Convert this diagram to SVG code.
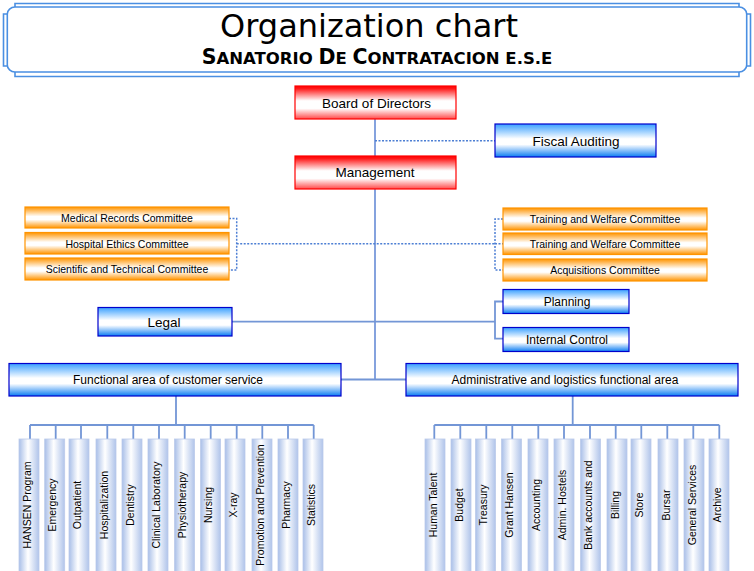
<svg xmlns="http://www.w3.org/2000/svg" width="754" height="571" viewBox="0 0 754 571">
<defs>
<linearGradient id="gRed" x1="0" y1="0" x2="0" y2="1">
<stop offset="0" stop-color="#ff0000"/><stop offset="0.08" stop-color="#ff1a1a"/><stop offset="0.45" stop-color="#ffffff"/><stop offset="0.68" stop-color="#ffffff"/><stop offset="1" stop-color="#ff4a4a"/>
</linearGradient>
<linearGradient id="gBlue" x1="0" y1="0" x2="0" y2="1">
<stop offset="0" stop-color="#3aa0ff"/><stop offset="0.45" stop-color="#ffffff"/><stop offset="0.62" stop-color="#ffffff"/><stop offset="1" stop-color="#0a7cf2"/>
</linearGradient>
<linearGradient id="gOrange" x1="0" y1="0" x2="0" y2="1">
<stop offset="0" stop-color="#ff9400"/><stop offset="0.45" stop-color="#ffffff"/><stop offset="0.6" stop-color="#ffffff"/><stop offset="1" stop-color="#ff9400"/>
</linearGradient>
<linearGradient id="gCol" x1="0" y1="0" x2="1" y2="0">
<stop offset="0" stop-color="#a9bfe8"/><stop offset="0.45" stop-color="#ffffff"/><stop offset="1" stop-color="#b0c4ea"/>
</linearGradient>
</defs>
<style>
text{font-family:"Liberation Sans",Arial,sans-serif;fill:#000}
.red{fill:url(#gRed);stroke:#ff0000;stroke-width:1.2}
.blue{fill:url(#gBlue);stroke:#0000cc;stroke-width:1.2}
.orange{fill:url(#gOrange);stroke:#ff9400;stroke-width:1.2}
.col{fill:url(#gCol);stroke:#bccbea;stroke-width:0.8}
.t14{font-size:13.5px;text-anchor:middle}
.t12{font-size:12px;text-anchor:middle}
.t10{font-size:10.5px;text-anchor:middle}
.frame{fill:none;stroke:#4a8fe2;stroke-width:1.6}
.main{fill:none;stroke:#3566c8;stroke-width:1.2}
.line{fill:none;stroke:#7396d6;stroke-width:1.8}
.dot{fill:none;stroke:#4d7fd4;stroke-width:1.5;stroke-dasharray:2 1.5}
</style>

<g id="title">
<rect x="7.3" y="7" width="739.4" height="65" rx="7.7" ry="7" class="frame"/>
<path class="frame" d="M15,7 V3.5 H739 V7 M746.7,14 H750.5 V66 H746.7 M739,72 V76.5 H15 V72 M7.3,66 H3.5 V14 H7.3"/>
<text x="369" y="36.5" style="font-family:'DejaVu Sans',sans-serif;font-size:32px;text-anchor:middle">Organization chart</text>
<text x="377" y="64" style="font-family:'DejaVu Sans',sans-serif;font-weight:bold;font-size:16.5px;text-anchor:middle"><tspan style="font-size:20.5px">S</tspan>ANATORIO <tspan style="font-size:20.5px">D</tspan>E <tspan style="font-size:20.5px">C</tspan>ONTRATACION E.S.E</text>
</g>

<g id="connectors">
<path class="main" d="M375,119 V156 M375,189 V379.5"/>
<path class="dot" d="M375,140.7 H495"/>
<path class="dot" d="M229,218.5 H236.7 V270 H229 M236.7,243.7 H495 M503,219 H495 V270 H503 M495,243.7 H503"/>
<path class="line" d="M232,321.7 H495 M503,301.5 H495 V338.7 H503"/>
<path class="line" d="M341,379.5 H406"/>
<path class="line" d="M176,396 V425 M30,425 H313.7 M30,425 V439 M55.7,425 V439 M81,425 V439 M107.3,425 V439 M133.3,425 V439 M159,425 V439 M184.7,425 V439 M210.7,425 V439 M236.7,425 V439 M262.3,425 V439 M288,425 V439 M313.7,425 V439"/>
<path class="line" d="M572.7,396 V425 M434.3,425 H719.3 M434.3,425 V439 M460.3,425 V439 M486.3,425 V439 M512.3,425 V439 M538.3,425 V439 M564,425 V439 M590,425 V439 M615.7,425 V439 M641.3,425 V439 M667.3,425 V439 M693.3,425 V439 M719.3,425 V439"/>
</g>

<g id="board"><rect class="red" x="295" y="86" width="161" height="33"/><text class="t14" x="376.5" y="108">Board of Directors</text></g>
<g id="fiscal"><rect class="blue" x="495" y="124" width="161" height="33"/><text class="t14" x="576" y="145.5">Fiscal Auditing</text></g>
<g id="management"><rect class="red" x="295" y="156" width="161" height="33"/><text class="t14" x="375" y="176.5">Management</text></g>

<g id="c-medical"><rect class="orange" x="25" y="207" width="204" height="21"/><text class="t10" x="127" y="221.7">Medical Records Committee</text></g>
<g id="c-ethics"><rect class="orange" x="25" y="232.5" width="204" height="21.5"/><text class="t10" x="127" y="247.5">Hospital Ethics Committee</text></g>
<g id="c-scientific"><rect class="orange" x="25" y="258" width="204" height="22"/><text class="t10" x="127" y="273">Scientific and Technical Committee</text></g>
<g id="c-training1"><rect class="orange" x="503" y="208" width="204" height="22"/><text class="t10" x="605" y="222.7">Training and Welfare Committee</text></g>
<g id="c-training2"><rect class="orange" x="503" y="233" width="204" height="21.5"/><text class="t10" x="605" y="247.7">Training and Welfare Committee</text></g>
<g id="c-acquisitions"><rect class="orange" x="503" y="259" width="204" height="22"/><text class="t10" x="605" y="273.7">Acquisitions Committee</text></g>

<g id="legal"><rect class="blue" x="98" y="307.5" width="134" height="28.5"/><text class="t14" x="164" y="326.5">Legal</text></g>
<g id="planning"><rect class="blue" x="503" y="289.5" width="126" height="24"/><text class="t12" x="567" y="305.5">Planning</text></g>
<g id="internal-control"><rect class="blue" x="503" y="327.5" width="126" height="24"/><text class="t12" x="567" y="343.5">Internal Control</text></g>

<g id="customer-service"><rect class="blue" x="9" y="363.5" width="332" height="32.5"/><text class="t12" x="168" y="384">Functional area of customer service</text></g>
<g id="admin-logistics"><rect class="blue" x="406" y="363.5" width="332" height="32.5"/><text class="t12" x="565" y="384">Administrative and logistics functional area</text></g>

<g id="u-hansen"><rect class="col" x="19" y="439" width="20" height="140"/><text class="t10" transform="translate(30.5,505) rotate(-90)">HANSEN Program</text></g>
<g id="u-emergency"><rect class="col" x="44.7" y="439" width="20" height="140"/><text class="t10" transform="translate(56.2,505) rotate(-90)">Emergency</text></g>
<g id="u-outpatient"><rect class="col" x="69" y="439" width="20" height="140"/><text class="t10" transform="translate(80.5,505) rotate(-90)">Outpatient</text></g>
<g id="u-hospitalization"><rect class="col" x="96" y="439" width="20" height="140"/><text class="t10" transform="translate(107.5,505) rotate(-90)">Hospitalization</text></g>
<g id="u-dentistry"><rect class="col" x="122" y="439" width="20" height="140"/><text class="t10" transform="translate(133.5,505) rotate(-90)">Dentistry</text></g>
<g id="u-clinical"><rect class="col" x="148" y="439" width="20" height="140"/><text class="t10" transform="translate(159.5,505) rotate(-90)">Clinical Laboratory</text></g>
<g id="u-physio"><rect class="col" x="174.5" y="439" width="20" height="140"/><text class="t10" transform="translate(186,505) rotate(-90)">Physiotherapy</text></g>
<g id="u-nursing"><rect class="col" x="200.5" y="439" width="20" height="140"/><text class="t10" transform="translate(212,505) rotate(-90)">Nursing</text></g>
<g id="u-xray"><rect class="col" x="225" y="439" width="20" height="140"/><text class="t10" transform="translate(236.5,505) rotate(-90)">X-ray</text></g>
<g id="u-promotion"><rect class="col" x="252" y="439" width="20" height="140"/><text class="t10" transform="translate(263.5,505) rotate(-90)">Promotion and Prevention</text></g>
<g id="u-pharmacy"><rect class="col" x="278" y="439" width="20" height="140"/><text class="t10" transform="translate(289.5,505) rotate(-90)">Pharmacy</text></g>
<g id="u-statistics"><rect class="col" x="303" y="439" width="20" height="140"/><text class="t10" transform="translate(314.5,505) rotate(-90)">Statistics</text></g>

<g id="u-human"><rect class="col" x="425" y="439" width="20" height="140"/><text class="t10" transform="translate(436.7,505) rotate(-90)">Human Talent</text></g>
<g id="u-budget"><rect class="col" x="451" y="439" width="20" height="140"/><text class="t10" transform="translate(462.7,505) rotate(-90)">Budget</text></g>
<g id="u-treasury"><rect class="col" x="475.5" y="439" width="20" height="140"/><text class="t10" transform="translate(487.2,505) rotate(-90)">Treasury</text></g>
<g id="u-grant"><rect class="col" x="501.5" y="439" width="20" height="140"/><text class="t10" transform="translate(513.2,505) rotate(-90)">Grant Hansen</text></g>
<g id="u-accounting"><rect class="col" x="528" y="439" width="20" height="140"/><text class="t10" transform="translate(539.7,505) rotate(-90)">Accounting</text></g>
<g id="u-hostels"><rect class="col" x="554" y="439" width="20" height="140"/><text class="t10" transform="translate(565.7,505) rotate(-90)">Admin. Hostels</text></g>
<g id="u-bank"><rect class="col" x="580.5" y="439" width="20" height="140"/><text class="t10" transform="translate(592.2,505) rotate(-90)">Bank accounts and</text></g>
<g id="u-billing"><rect class="col" x="607" y="439" width="20" height="140"/><text class="t10" transform="translate(618.7,505) rotate(-90)">Billing</text></g>
<g id="u-store"><rect class="col" x="631" y="439" width="20" height="140"/><text class="t10" transform="translate(642.7,505) rotate(-90)">Store</text></g>
<g id="u-bursar"><rect class="col" x="658" y="439" width="20" height="140"/><text class="t10" transform="translate(669.7,505) rotate(-90)">Bursar</text></g>
<g id="u-general"><rect class="col" x="684" y="439" width="20" height="140"/><text class="t10" transform="translate(695.7,505) rotate(-90)">General Services</text></g>
<g id="u-archive"><rect class="col" x="709" y="439" width="20" height="140"/><text class="t10" transform="translate(720.7,505) rotate(-90)">Archive</text></g>
</svg>
